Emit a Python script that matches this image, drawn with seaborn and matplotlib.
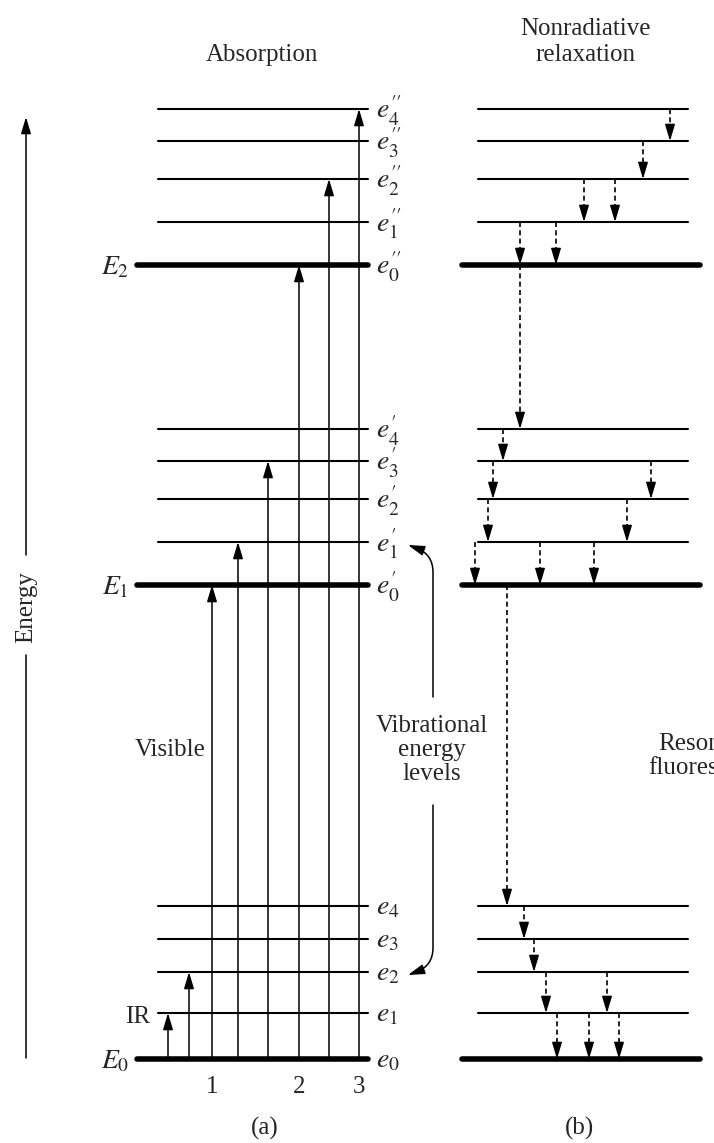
import pandas as pd
import seaborn as sns
import matplotlib.pyplot as plt

sns.set_theme(style='white')
plt.rcParams['font.family'] = ['Liberation Serif', 'DejaVu Serif']
plt.rcParams['mathtext.fontset'] = 'stix'

# Energy levels (arbitrary energy units), ground / first / second electronic state
levels_e0 = [84, 130, 171, 204, 237]
levels_e1 = [558, 601, 644, 682, 714]
levels_e2 = [878, 921, 964, 1002, 1034]
labels_e0 = [r'$e_0$', r'$e_1$', r'$e_2$', r'$e_3$', r'$e_4$']
labels_e1 = [r'$e_0^{\prime}$', r'$e_1^{\prime}$', r'$e_2^{\prime}$',
             r'$e_3^{\prime}$', r'$e_4^{\prime}$']
labels_e2 = [r'$e_0^{\prime\prime}$', r'$e_1^{\prime\prime}$', r'$e_2^{\prime\prime}$',
             r'$e_3^{\prime\prime}$', r'$e_4^{\prime\prime}$']
state_labels = [r'$E_0$', r'$E_1$', r'$E_2$']

# (a) absorption transitions: start from E0, end at these levels
absorb_x = [168, 189, 212, 238, 268, 299, 329, 359]
absorb_top = [130, 171, 558, 601, 682, 878, 964, 1034]
absorb_group = ['', '', '1', '', '', '2', '', '3']

# (b) nonradiative relaxation: x, from, to
relax_x = [670, 643, 584, 615, 520, 556, 520,
           503, 493, 651, 488, 627, 475, 540, 594, 507,
           524, 534, 546, 607, 557, 589, 619]
relax_from = [1034, 1002, 964, 964, 921, 921, 878,
              714, 682, 682, 644, 644, 601, 601, 601, 558,
              237, 204, 171, 171, 130, 130, 130]
relax_to = [1002, 964, 921, 921, 878, 878, 714,
            682, 644, 644, 601, 601, 558, 558, 558, 237,
            204, 171, 130, 130, 84, 84, 84]

fs = 18

fig = plt.figure(figsize=(7.14, 11.43), dpi=100)
ax = fig.add_axes([0, 0, 1, 1])

# build level line table for both panels
rows = []
panels = {'a': (158, 137, 368, 368), 'b': (478, 462, 688, 700)}
for p, (x0, x0t, x1, x1t) in panels.items():
    for s, lev in enumerate([levels_e0, levels_e1, levels_e2]):
        for i, e in enumerate(lev):
            thick = i == 0
            xs = (x0t, x1t) if thick else (x0, x1)
            for xx in xs:
                rows.append({'x': xx, 'energy': e, 'level': f'{p}{s}{i}', 'thick': thick})
df = pd.DataFrame(rows)

sns.lineplot(data=df[~df.thick], x='x', y='energy', units='level', estimator=None,
             color='black', lw=1.5, sort=False, ax=ax)
sns.lineplot(data=df[df.thick], x='x', y='energy', units='level', estimator=None,
             color='black', lw=4.0, sort=False, ax=ax)
ax.set_xlim(0, 714)
ax.set_ylim(0, 1143)
ax.set_xlabel('')
ax.set_ylabel('')
ax.axis('off')

head = dict(arrowstyle='-|>,head_length=1.0,head_width=0.3', mutation_scale=10,
            color='black', lw=1.1, shrinkA=0, shrinkB=0)

# level labels
for lev, labs in zip([levels_e0, levels_e1, levels_e2], [labels_e0, labels_e1, labels_e2]):
    for e, lab in zip(lev, labs):
        ax.text(376, e - 2, lab, fontsize=fs + 2, ha='left', va='center')
for lev, lab in zip([levels_e0, levels_e1, levels_e2], state_labels):
    ax.text(129, lev[0] - 3, lab, fontsize=fs + 2, ha='right', va='center')

# absorption arrows
base = levels_e0[0]
for x, top, g in zip(absorb_x, absorb_top, absorb_group):
    ax.annotate('', xy=(x, top), xytext=(x, base), arrowprops=head)
    if g:
        ax.text(x, 56, g, fontsize=fs, ha='center', va='center')

# relaxation arrows (dashed stem + solid head)
for x, a, b in zip(relax_x, relax_from, relax_to):
    ax.plot([x, x], [a, b + 10], color='black', lw=1.2, ls=(0, (3, 2)))
    ax.annotate('', xy=(x, b), xytext=(x, b + 13), arrowprops=head)

# energy axis
ax.plot([26, 26], [85, 488], color='black', lw=1.1)
ax.annotate('', xy=(26, 1026), xytext=(26, 588), arrowprops=head)
ax.text(26, 536, 'Energy', fontsize=fs, rotation=90, ha='center', va='center')

# vibrational levels pointer
ax.annotate('', xy=(408, 598), xytext=(433, 446),
            arrowprops=dict(head, connectionstyle='angle,angleA=90,angleB=-20,rad=18'))
ax.annotate('', xy=(408, 168), xytext=(433, 338),
            arrowprops=dict(head, connectionstyle='angle,angleA=90,angleB=20,rad=18'))
ax.text(432, 393, 'Vibrational\nenergy\nlevels', fontsize=fs, ha='center', va='center',
        linespacing=1.1)

# other text
ax.text(262, 1088, 'Absorption', fontsize=fs, ha='center', va='center')
ax.text(585, 1101, 'Nonradiative\nrelaxation', fontsize=fs, ha='center', va='center',
        linespacing=1.25)
ax.text(206, 393, 'Visible', fontsize=fs, ha='right', va='center')
ax.text(150, 126, 'IR', fontsize=fs, ha='right', va='center')
ax.text(712, 387, 'Resonance\nfluorescence', fontsize=fs, ha='center', va='center',
        linespacing=1.1)
ax.text(265, 15, '(a)', fontsize=fs, ha='center', va='center')
ax.text(580, 15, '(b)', fontsize=fs, ha='center', va='center')

fig.savefig('out.png', dpi=100, facecolor='white')
